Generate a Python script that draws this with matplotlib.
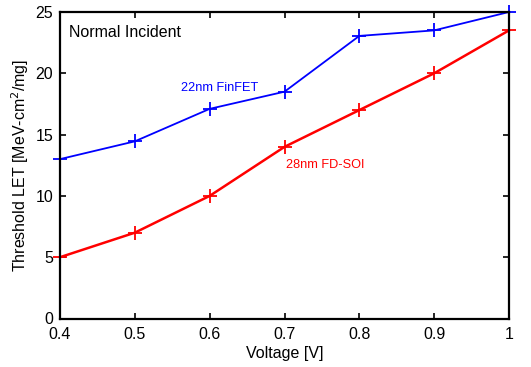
import matplotlib
matplotlib.use("Agg")
from matplotlib import pyplot as plt

plt.rcParams['font.family'] = ['Liberation Sans', 'DejaVu Sans']

# Daten
voltage = [0.4, 0.5, 0.6, 0.7, 0.8, 0.9, 1.0]
finfet_22nm = [13.0, 14.45, 17.1, 18.5, 23.05, 23.5, 25.0]
fdsoi_28nm = [5.0, 7.0, 10.0, 14.0, 17.0, 20.0, 23.5]

fig = plt.figure(figsize=(5.31, 3.67), dpi=100)
ax = fig.add_axes([60 / 531, 1 - 318.5 / 367, 449 / 531, 306.5 / 367])

ax.plot(voltage, finfet_22nm, color='#0000ff', marker='+', markersize=10,
        markeredgewidth=1.3, linewidth=1.3, clip_on=False)
ax.plot(voltage, fdsoi_28nm, color='#ff0000', marker='+', markersize=10,
        markeredgewidth=1.3, linewidth=1.8, clip_on=False)

ax.set_xlim(0.4, 1.0)
ax.set_ylim(0, 25)
ax.set_xticks([0.4, 0.5, 0.6, 0.7, 0.8, 0.9, 1.0])
ax.set_xticklabels(['0.4', '0.5', '0.6', '0.7', '0.8', '0.9', '1'])
ax.set_yticks([0, 5, 10, 15, 20, 25])
ax.tick_params(direction='in', top=True, right=True, length=4, width=1.2,
               labelsize=11.5)
ax.tick_params(axis='x', pad=6)
ax.tick_params(axis='y', pad=5)
for s in ax.spines.values():
    s.set_linewidth(1.6)

ax.set_xlabel('Voltage [V]', fontsize=11.5, labelpad=3)
ax.set_ylabel('Threshold LET [MeV-cm$^2$/mg]', fontsize=11.5, labelpad=3)

ax.text(0.412, 23.3, 'Normal Incident', fontsize=11.5, va='center')
ax.text(0.562, 18.8, '22nm FinFET', fontsize=9.2, color='#0000ff', va='center')
ax.text(0.702, 12.5, '28nm FD-SOI', fontsize=9.2, color='#ff0000', va='center')

fig.savefig('out.png', dpi=100)
